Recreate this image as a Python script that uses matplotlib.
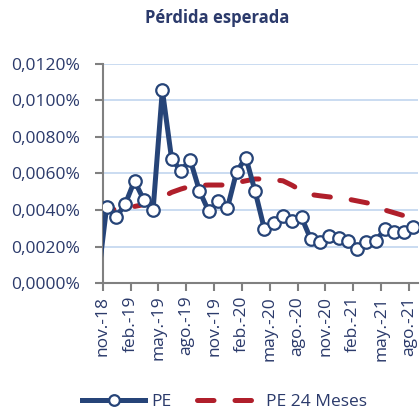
import matplotlib
matplotlib.use("Agg")
import matplotlib.pyplot as plt
from matplotlib.ticker import FuncFormatter

plt.rcParams['font.family'] = ['Open Sans', 'DejaVu Sans']

# months oct.-18 .. ago.-21 (oct.-18 only used to lead the line in, it is off the axis)
months = ['oct.-18', 'nov.-18', 'dic.-18', 'ene.-19', 'feb.-19', 'mar.-19', 'abr.-19',
          'may.-19', 'jun.-19', 'jul.-19', 'ago.-19', 'sep.-19', 'oct.-19', 'nov.-19',
          'dic.-19', 'ene.-20', 'feb.-20', 'mar.-20', 'abr.-20', 'may.-20', 'jun.-20',
          'jul.-20', 'ago.-20', 'sep.-20', 'oct.-20', 'nov.-20', 'dic.-20', 'ene.-21',
          'feb.-21', 'mar.-21', 'abr.-21', 'may.-21', 'jun.-21', 'jul.-21', 'ago.-21']

# values in percent
pe = [0.0000, 0.00418, 0.00360, 0.00433, 0.00560, 0.00455, 0.00400, 0.01056, 0.00678,
      0.00615, 0.00675, 0.00505, 0.00393, 0.00447, 0.00409, 0.00609, 0.00687, 0.00502,
      0.00295, 0.00329, 0.00365, 0.00338, 0.00360, 0.00240, 0.00224, 0.00260, 0.00245,
      0.00231, 0.00185, 0.00224, 0.00233, 0.00296, 0.00278, 0.00278, 0.00309]

pe24 = [0.00398, 0.00400, 0.00405, 0.00410, 0.00420, 0.00430, 0.00440, 0.00470, 0.00497,
        0.00515, 0.00530, 0.00535, 0.00537, 0.00537, 0.00537, 0.00550, 0.00560, 0.00570,
        0.00570, 0.00565, 0.00560, 0.00535, 0.00505, 0.00485, 0.00478, 0.00472, 0.00465,
        0.00460, 0.00450, 0.00440, 0.00430, 0.00400, 0.00385, 0.00370, 0.00350]

navy = '#264478'
red = '#b01f2b'
txt = '#2b3a6b'

x = list(range(len(months)))

fig = plt.figure(figsize=(4.2, 4.12), dpi=100)
ax = fig.add_axes([0.2445, 0.3124, 0.7505, 0.533])

ax.plot(x, pe24, color=red, lw=3.6, dashes=(3.3, 4.2), dash_capstyle='round',
        label='PE 24 Meses', zorder=2)
ax.plot(x, pe, color=navy, lw=3.6, marker='o', ms=9, mfc='white', mec=navy, mew=1.6,
        markevery=list(range(1, len(months))), label='PE', zorder=3)

tick_pos = [i - 0.43 for i in range(1, len(months), 3)]
ax.set_xticks(tick_pos)
ax.set_xticklabels(months[1::3], rotation=90, fontsize=12.5, color=txt)
ax.set_xlim(0.57, len(months) - 1 + 0.54)

ax.set_ylim(0, 0.012)
ax.set_yticks([0, 0.002, 0.004, 0.006, 0.008, 0.010, 0.012])
ax.yaxis.set_major_formatter(FuncFormatter(lambda v, p: f'{v:.4f}%'.replace('.', ',')))
ax.tick_params(axis='y', labelsize=12.5, labelcolor=txt, color='#808080', length=6, width=1.5, pad=10)
ax.tick_params(axis='x', color='#808080', length=6, width=1.5, pad=3)
ax.grid(axis='y', color='#c6d9f0', lw=1.3)
ax.set_axisbelow(True)
for s in ['top', 'right']:
    ax.spines[s].set_visible(False)
for s in ['left', 'bottom']:
    ax.spines[s].set_color('#808080')
    ax.spines[s].set_linewidth(1.5)

fig.suptitle('Pérdida esperada', x=0.518, y=0.978, fontsize=12, fontweight='bold', color=txt)

h, l = ax.get_legend_handles_labels()
fig.legend(h[::-1], l[::-1], loc='center', bbox_to_anchor=(0.535, 0.024), ncol=2,
           frameon=False, fontsize=12.5, labelcolor=txt, handlelength=3.6,
           handletextpad=0.35, columnspacing=1.5, markerscale=0.85)

fig.savefig('out.png', dpi=100)
